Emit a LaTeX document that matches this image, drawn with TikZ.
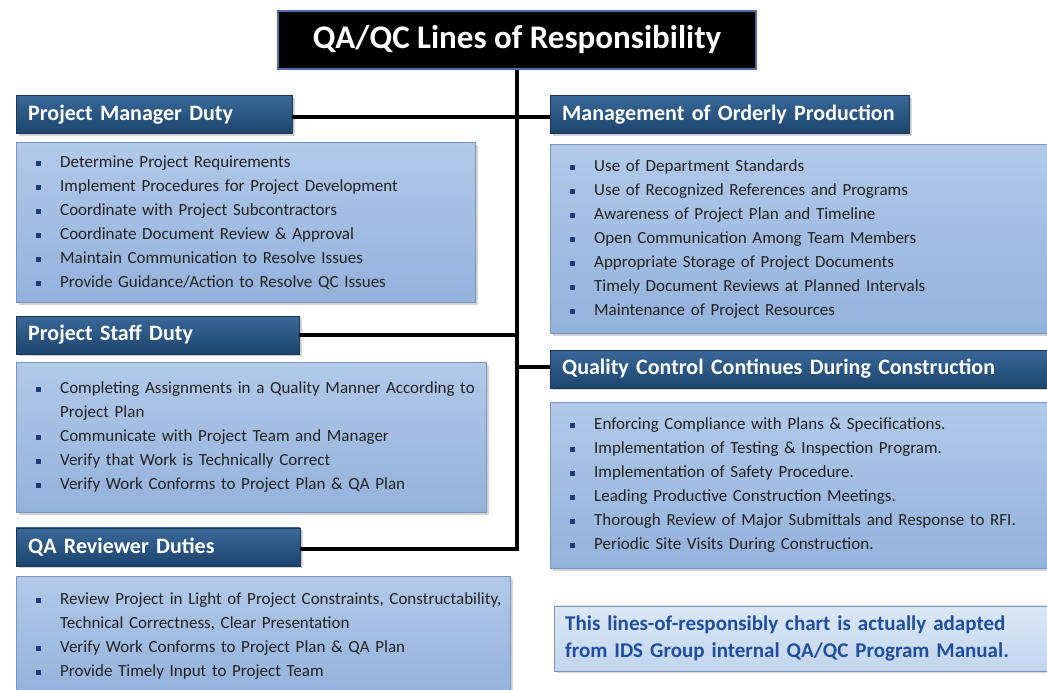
\documentclass[tikz,border=0pt]{standalone}
\usepackage{fontspec}
\setmainfont{Carlito}
\usepackage{enumitem}
\usetikzlibrary{positioning,shadows}

\definecolor{hdrtop}{HTML}{3A6898}
\definecolor{hdrbot}{HTML}{1C456E}
\definecolor{hdrline}{HTML}{17385A}
\definecolor{bodytop}{HTML}{B2C9E9}
\definecolor{bodybot}{HTML}{93B2DB}
\definecolor{bodyline}{HTML}{7895BE}
\definecolor{bodytext}{HTML}{222222}
\definecolor{notetop}{HTML}{DCE8F6}
\definecolor{notebot}{HTML}{C2D5EE}
\definecolor{notetext}{HTML}{1F4E9E}
\definecolor{bulletblue}{HTML}{1F3A78}
\definecolor{titleline}{HTML}{4F6FA8}

\newcommand{\sqbullet}{\textcolor{bulletblue}{\rule[1.5pt]{5pt}{5pt}}}
\newlist{dutylist}{itemize}{1}
\setlist[dutylist]{label=\sqbullet, leftmargin=44pt, labelsep=19pt, itemsep=0pt, topsep=0pt, parsep=0pt, partopsep=0pt, after=\vspace{12pt}}

\begin{document}
\begin{tikzpicture}[x=1pt, y=-1pt,
  hdr/.style={draw=hdrline, top color=hdrtop, bottom color=hdrbot, text=white, font=\bfseries\fontsize{22}{26}\selectfont, inner xsep=12pt, align=left, minimum height=38pt, drop shadow={opacity=0.35}},
  body/.style={draw=bodyline, top color=bodytop, bottom color=bodybot, text=bodytext, inner sep=0pt, align=left, font=\fontsize{17}{24}\selectfont, drop shadow={opacity=0.35}},
  note/.style={draw=bodyline, top color=notetop, bottom color=notebot, text=notetext, inner xsep=11pt, align=left, font=\bfseries\fontsize{21}{27}\selectfont, drop shadow={opacity=0.3}},
  conn/.style={line width=3.5pt, draw=black}]

\useasboundingbox (0,0) rectangle (1047,689);
\clip (0,0) rectangle (1047,689);

% title
\node[fill=black, draw=titleline, line width=2pt, text=white, font=\bfseries\fontsize{33}{38}\selectfont, minimum width=478pt, minimum height=58pt, anchor=north] (title) at (517,10) {QA/QC Lines of Responsibility};

% left column
\node[hdr, text width=252pt, anchor=north west] (pm) at (16,95) {Project Manager Duty};
\node[body, text width=459pt, minimum height=160pt, below=9pt of pm.south west, anchor=north west] (pmlist) {\begin{dutylist}
  \item Determine Project Requirements
  \item Implement Procedures for Project Development
  \item Coordinate with Project Subcontractors
  \item Coordinate Document Review \& Approval
  \item Maintain Communication to Resolve Issues
  \item Provide Guidance/Action to Resolve QC Issues
\end{dutylist}};

\node[hdr, text width=259pt, below=13pt of pmlist.south west, anchor=north west] (psd) {Project Staff Duty};
\node[body, text width=470pt, minimum height=150pt, below=8pt of psd.south west, anchor=north west] (psdlist) {\begin{dutylist}
  \item Completing Assignments in a Quality Manner According to\newline Project Plan
  \item Communicate with Project Team and Manager
  \item Verify that Work is Technically Correct
  \item Verify Work Conforms to Project Plan \& QA Plan
\end{dutylist}};

\node[hdr, text width=260pt, below=15pt of psdlist.south west, anchor=north west] (qar) {QA Reviewer Duties};
\node[body, text width=494pt, minimum height=120pt, below=10pt of qar.south west, anchor=north west] (qarlist) {\begin{dutylist}
  \item Review Project in Light of Project Constraints, Constructability,\newline Technical Correctness, Clear Presentation
  \item Verify Work Conforms to Project Plan \& QA Plan
  \item Provide Timely Input to Project Team
\end{dutylist}};

% right column
\node[hdr, text width=335pt, anchor=north west] (mop) at (550,95) {Management of Orderly Production};
\node[body, text width=502pt, minimum height=189pt, below=11pt of mop.south west, anchor=north west] (moplist) {\begin{dutylist}
  \item Use of Department Standards
  \item Use of Recognized References and Programs
  \item Awareness of Project Plan and Timeline
  \item Open Communication Among Team Members
  \item Appropriate Storage of Project Documents
  \item Timely Document Reviews at Planned Intervals
  \item Maintenance of Project Resources
\end{dutylist}};

\node[hdr, text width=480pt, below=16pt of moplist.south west, anchor=north west] (qc) {Quality Control Continues During Construction};
\node[body, text width=504pt, minimum height=166pt, below=14pt of qc.south west, anchor=north west] (qclist) {\begin{dutylist}
  \item Enforcing Compliance with Plans \& Specifications.
  \item Implementation of Testing \& Inspection Program.
  \item Implementation of Safety Procedure.
  \item Leading Productive Construction Meetings.
  \item Thorough Review of Major Submittals and Response to RFI.
  \item Periodic Site Visits During Construction.
\end{dutylist}};

\node[note, text width=478pt, minimum height=65pt, below=37pt of qclist.south west, anchor=north west, xshift=4pt] (src) {This lines-of-responsibly chart is actually adapted\\from IDS Group internal QA/QC Program Manual.};

% lines of responsibility
\draw[conn] (title.south) |- ([yshift=-2pt]qar.east);
\draw[conn] ([yshift=-3pt]pm.east) -- ([yshift=-3pt]pm.east -| title.south);
\draw[conn] (psd.east) -- (psd.east -| title.south);
\draw[conn] ([yshift=-3pt]mop.west) -- ([yshift=-3pt]mop.west -| title.south);
\draw[conn] ([yshift=2pt]qc.west) -- ([yshift=2pt]qc.west -| title.south);
\end{tikzpicture}
\end{document}
